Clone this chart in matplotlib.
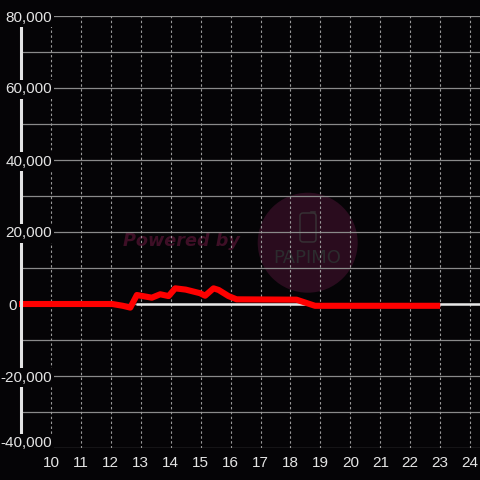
import matplotlib
import matplotlib.pyplot as plt
from matplotlib.patches import Ellipse, FancyBboxPatch
from matplotlib.transforms import blended_transform_factory, offset_copy

# data
hours = [8.88, 12.05, 12.4, 12.65, 12.87, 13.37, 13.65, 13.93, 14.15, 14.5,
         14.98, 15.15, 15.43, 15.6, 15.93, 16.2, 18.2, 18.82, 23.0]
values = [0, 0, -500, -1000, 2500, 1750, 2700, 2200, 4350, 4000,
          3000, 2300, 4350, 3900, 2200, 1300, 1200, -500, -500]
base_hours = [12.85, 24.4]
base_values = [0, 0]

x_ticks = list(range(10, 25))
y_grid = list(range(-40000, 80001, 10000))
y_labels = [-40000, -20000, 0, 20000, 40000, 60000, 80000]

bg = '#050406'
fg = '#e4e4e4'

fig = plt.figure(figsize=(4.8, 4.8), dpi=100, facecolor=bg)
ax = fig.add_axes([21 / 480, 32 / 480, 459 / 480, 432 / 480], facecolor=bg)
ax.set_xlim(9.0, 24.33)
ax.set_ylim(-40000, 80000)

# watermark
ax.add_patch(Ellipse((0.6246, 0.4752), 100 / 459, 100 / 432, transform=ax.transAxes,
                     facecolor='#2a0c1e', edgecolor='none', zorder=0))
ax.add_patch(FancyBboxPatch((0.6078, 0.4769), 0.0349, 0.0671, transform=ax.transAxes,
                            boxstyle='round,pad=0,rounding_size=0.007',
                            facecolor='none', edgecolor='#363034', lw=1.1, zorder=0.5))
ax.plot([0.632, 0.6415], [0.5465, 0.5465], transform=ax.transAxes,
        color='#363034', lw=1.1, zorder=0.5)
ax.text(0.6242, 0.4398, 'PAPIMO', transform=ax.transAxes, ha='center', va='center',
        fontsize=13, color='#2c2c2e', family='DejaVu Sans', zorder=0.5)
ax.text(0.3486, 0.479, 'Powered by', transform=ax.transAxes, ha='center', va='center',
        fontsize=12.7, color='#3e0f26', fontweight='bold', style='italic',
        family='DejaVu Sans', zorder=0.5)

# grid
for y in y_grid:
    ax.axhline(y, color='#8a8a8a', lw=0.9, zorder=1)
for x in x_ticks:
    ax.axvline(x, color='#9a9a9a', lw=0.8, ls=(0, (2.2, 2.2)), zorder=1)

ax.plot(base_hours, base_values, color='#e8e8e8', lw=1.8, zorder=2, solid_capstyle='butt')
ax.plot(hours, values, color='#ff0000', lw=4.4, zorder=3, clip_on=False,
        solid_capstyle='butt', solid_joinstyle='round')

for s in ['top', 'right', 'bottom']:
    ax.spines[s].set_visible(False)
ax.spines['left'].set_color(fg)
ax.spines['left'].set_linewidth(2.2)
ax.spines['left'].set_zorder(4)

ax.set_xticks(x_ticks)
ax.set_xticklabels([str(x) for x in x_ticks])
ax.tick_params(axis='x', length=0, pad=6, colors=fg, labelsize=11)
for lab in ax.get_xticklabels():
    lab.set_family('Liberation Sans')
ax.set_yticks([])

trans = blended_transform_factory(ax.transAxes, ax.transData)
for y in y_labels:
    if y == min(y_labels):
        # bottom label sits above its gridline
        t, va = offset_copy(trans, fig=fig, y=1, units='dots'), 'baseline'
    else:
        t, va = trans, 'center_baseline'
    if y == 0:
        xpos, ha = -0.0283, 'left'
    else:
        xpos, ha = 0.0675, 'right'
    ax.text(xpos, y, f'{y:,}', transform=t, ha=ha, va=va,
            fontsize=11, color=fg, family='Liberation Sans', zorder=5, clip_on=False,
            bbox=dict(facecolor=bg, edgecolor='none', pad=1.5))

fig.savefig('out.png', dpi=100, facecolor=bg)
